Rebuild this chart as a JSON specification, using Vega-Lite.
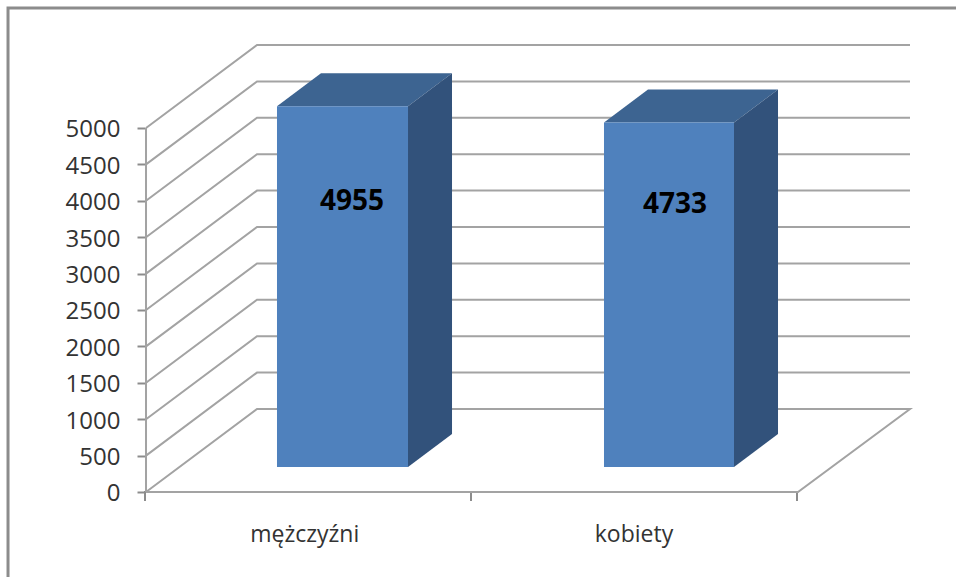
{
"$schema":"https://vega.github.io/schema/vega-lite/v6.json",
"width":956,"height":577,"padding":0,"autosize":{"type":"none"},"background":"white",
"view":{"stroke":null},
"config":{"font":"Open Sans"},
"datasets":{
"frame":[{"x":-0.4233,"y":-1170},{"x":-0.4233,"y":6648},{"x":2.49,"y":6648}],
"grid":[
{"g":"0","x":0,"y":0},{"g":"0","x":0.3405,"y":1140},{"g":"0","x":2.3436,"y":1140},{"g":"0","x":2,"y":0},{"g":"0","x":0,"y":0},
{"g":"500","x":0,"y":500},{"g":"500","x":0.3405,"y":1640},{"g":"500","x":2.3436,"y":1640},
{"g":"1000","x":0,"y":1000},{"g":"1000","x":0.3405,"y":2140},{"g":"1000","x":2.3436,"y":2140},
{"g":"1500","x":0,"y":1500},{"g":"1500","x":0.3405,"y":2640},{"g":"1500","x":2.3436,"y":2640},
{"g":"2000","x":0,"y":2000},{"g":"2000","x":0.3405,"y":3140},{"g":"2000","x":2.3436,"y":3140},
{"g":"2500","x":0,"y":2500},{"g":"2500","x":0.3405,"y":3640},{"g":"2500","x":2.3436,"y":3640},
{"g":"3000","x":0,"y":3000},{"g":"3000","x":0.3405,"y":4140},{"g":"3000","x":2.3436,"y":4140},
{"g":"3500","x":0,"y":3500},{"g":"3500","x":0.3405,"y":4640},{"g":"3500","x":2.3436,"y":4640},
{"g":"4000","x":0,"y":4000},{"g":"4000","x":0.3405,"y":5140},{"g":"4000","x":2.3436,"y":5140},
{"g":"4500","x":0,"y":4500},{"g":"4500","x":0.3405,"y":5640},{"g":"4500","x":2.3436,"y":5640},
{"g":"5000","x":0,"y":5000},{"g":"5000","x":0.3405,"y":6140},{"g":"5000","x":2.3436,"y":6140},
{"g":"axis","x":0,"y":5000},{"g":"axis","x":0,"y":0}
],
"front":[
{"cat":"mężczyźni","x":0.4018,"x2":0.8037,"y":5298,"y2":343},
{"cat":"kobiety","x":1.4049,"x2":1.8037,"y":5076,"y2":343}
],
"side":[
{"cat":"mężczyźni","x":0.8037,"y":5298,"y2":343},{"cat":"mężczyźni","x":0.9387,"y":5751,"y2":796},
{"cat":"kobiety","x":1.8037,"y":5076,"y2":343},{"cat":"kobiety","x":1.9387,"y":5529,"y2":796}
],
"top":[
{"cat":"mężczyźni","y":5298,"x":0.4018,"x2":0.8037},{"cat":"mężczyźni","y":5751,"x":0.5368,"x2":0.9387},
{"cat":"kobiety","y":5076,"x":1.4049,"x2":1.8037},{"cat":"kobiety","y":5529,"x":1.5399,"x2":1.9387}
],
"labels":[
{"cat":"mężczyźni","value":4955,"x":0.632,"y":3985},
{"cat":"kobiety","value":4733,"x":1.623,"y":3945}
]
},
"encoding":{
"x":{"field":"x","type":"quantitative","title":null,"scale":{"domain":[-0.4479,2.4847],"nice":false,"zero":false}},
"y":{"field":"y","type":"quantitative","title":null,"scale":{"domain":[-1167.6,6758.2],"nice":false,"zero":false}}
},
"layer":[
{"data":{"name":"frame"},"mark":{"type":"line","stroke":"#8c8c8c","strokeWidth":3,"clip":true}},
{"data":{"name":"grid"},"mark":{"type":"line","stroke":"#a3a3a3","strokeWidth":2},
 "encoding":{"detail":{"field":"g"},"order":{"field":"o"},
 "x":{"field":"x","type":"quantitative","title":null,
   "axis":{"values":[0,0.49,1,1.5,2],"orient":"bottom","offset":-85,"domain":false,"grid":false,"tickSize":10,"tickWidth":2,"tickColor":"#8c8c8c","translate":-1,
     "tickOpacity":{"condition":{"test":"datum.value%1!=0","value":0},"value":1},
     "labelExpr":"datum.value==0.49?'mężczyźni':datum.value==1.5?'kobiety':''","labelFontSize":23,"labelColor":"#333333","labelPadding":23,"labelFlush":false,"labelOverlap":false}},
 "y":{"field":"y","type":"quantitative","title":null,
   "axis":{"values":[0,500,1000,1500,2000,2500,3000,3500,4000,4500,5000],"format":"d","orient":"left","offset":-145,"domain":false,"grid":false,"tickSize":8,"tickWidth":2,"tickColor":"#8c8c8c","labelFontSize":24,"labelColor":"#333333","labelPadding":17,"labelOffset":2,"labelOverlap":false,"labelFlush":false}}
 }},
{"data":{"name":"top"},"mark":{"type":"area","orient":"horizontal","fill":"#3d6491"},"encoding":{"detail":{"field":"cat"},"x2":{"field":"x2"}}},
{"data":{"name":"side"},"mark":{"type":"area","orient":"vertical","fill":"#32527b"},"encoding":{"detail":{"field":"cat"},"y2":{"field":"y2"}}},
{"data":{"name":"front"},"mark":{"type":"rect","fill":"#4f81bd"},"encoding":{"x2":{"field":"x2"},"y2":{"field":"y2"}}},
{"data":{"name":"labels"},"mark":{"type":"text","fontWeight":"bold","fontSize":28,"color":"#000000","align":"center","baseline":"middle"},"encoding":{"text":{"field":"value","type":"quantitative","format":"d"}}}
]
}
